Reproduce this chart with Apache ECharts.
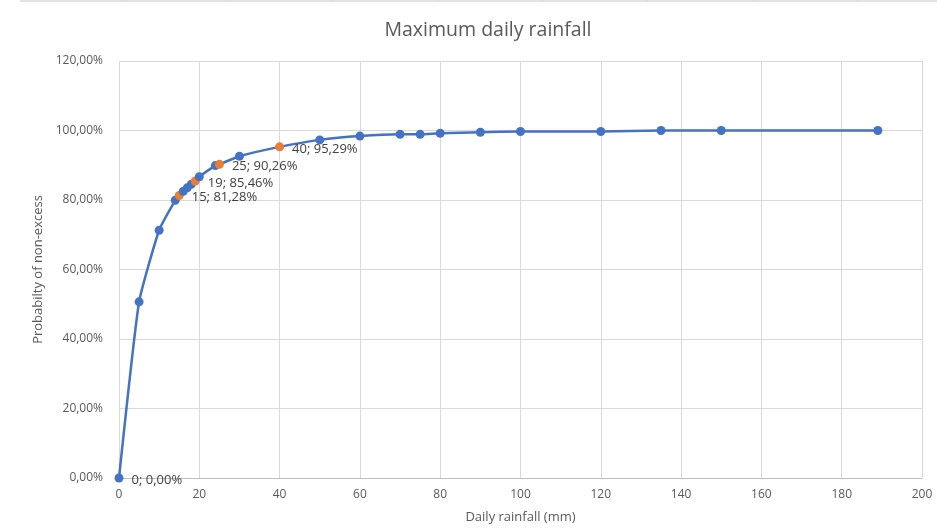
<!DOCTYPE html>
<html>
<head>
<meta charset="utf-8">
<title>Maximum daily rainfall</title>
<script src="https://cdn.jsdelivr.net/npm/echarts@6/dist/echarts.min.js"></script>
<style>
  html, body { margin: 0; padding: 0; background: #ffffff; }
  #chart { width: 937px; height: 529px; }
</style>
</head>
<body>
<div id="chart"></div>
<script>
// Daily rainfall (mm) and probability of non-excess (%)
const rainfall = [0, 5, 10, 14, 15, 16, 17, 18, 19, 20, 24, 25, 30, 40, 50, 60, 70, 75, 80, 90, 100, 120, 135, 150, 189];
const probability = [0, 50.7, 71.3, 79.9, 81.28, 82.5, 83.5, 84.5, 85.46, 86.7, 89.9, 90.26, 92.6, 95.29, 97.3, 98.4, 98.9, 98.9, 99.2, 99.5, 99.7, 99.7, 100, 100, 100];

// Points drawn in orange, and points that carry a value label
const highlighted = [15, 19, 25, 40];
const labelled = [0, 15, 19, 25, 40];

// Axis ranges
const xMin = 0, xMax = 200, xStep = 20;
const yMin = 0, yMax = 120, yStep = 20;

const BLUE = '#4472C4';
const ORANGE = '#ED7D31';
const TEXT = '#595959';
const GRID = '#d9d9d9';

const pct = v => v.toFixed(2).replace('.', ',') + '%';

const seriesData = rainfall.map((x, i) => {
  const item = { value: [x, probability[i]] };
  if (highlighted.includes(x)) {
    item.itemStyle = { color: ORANGE };
  }
  if (labelled.includes(x)) {
    item.label = { show: true };
  }
  return item;
});

// Thin sheet border along the top edge
const borderTicks = [122.5, 227.5, 332.5, 437.5, 542.5, 647.5, 752.5, 857.5];
const graphics = [
  { type: 'line', shape: { x1: 20, y1: 1, x2: 937, y2: 1 }, style: { stroke: GRID, lineWidth: 1.5 }, silent: true }
].concat(borderTicks.map(x => ({
  type: 'line', shape: { x1: x, y1: 0, x2: x, y2: 1.5 }, style: { stroke: GRID, lineWidth: 1 }, silent: true
})));

const chart = echarts.init(document.getElementById('chart'), null, { renderer: 'canvas' });

chart.setOption({
  animation: false,
  backgroundColor: '#ffffff',
  graphic: graphics,
  title: {
    text: 'Maximum daily rainfall',
    left: 483,
    top: 15,
    textAlign: 'center',
    textStyle: { fontFamily: 'Open Sans', fontSize: 19.5, fontWeight: 'normal', color: TEXT }
  },
  grid: { left: 119, right: 15, top: 61, bottom: 45, containLabel: false },
  xAxis: {
    type: 'value',
    min: xMin, max: xMax, interval: xStep,
    name: 'Daily rainfall (mm)',
    nameLocation: 'middle',
    nameGap: 33,
    nameTextStyle: { fontFamily: 'Open Sans', fontSize: 13, color: TEXT },
    axisLine: { show: true, lineStyle: { color: '#bfbfbf', width: 1 } },
    axisTick: { show: false },
    axisLabel: { fontFamily: 'Open Sans', fontSize: 12, color: TEXT, margin: 11 },
    splitLine: { show: true, lineStyle: { color: GRID, width: 1 } }
  },
  yAxis: {
    type: 'value',
    min: yMin, max: yMax, interval: yStep,
    name: 'Probabilty of non-excess',
    nameLocation: 'middle',
    nameGap: 66,
    nameRotate: 90,
    nameTextStyle: { fontFamily: 'Open Sans', fontSize: 13, color: TEXT },
    axisLine: { show: false },
    axisTick: { show: false },
    axisLabel: { fontFamily: 'Open Sans', fontSize: 12, color: TEXT, margin: 16, formatter: v => pct(v) },
    splitLine: { show: true, lineStyle: { color: GRID, width: 1 } }
  },
  series: [{
    type: 'line',
    data: seriesData,
    smooth: 0.15,
    symbol: 'circle',
    symbolSize: 9,
    lineStyle: { color: BLUE, width: 2.5 },
    itemStyle: { color: BLUE },
    label: {
      show: false,
      position: 'right',
      distance: 8,
      offset: [0, 2],
      fontFamily: 'Open Sans',
      fontSize: 13,
      color: '#404040',
      formatter: p => p.value[0] + '; ' + pct(p.value[1])
    },
    emphasis: { disabled: true },
    z: 3
  }]
});
</script>
</body>
</html>
